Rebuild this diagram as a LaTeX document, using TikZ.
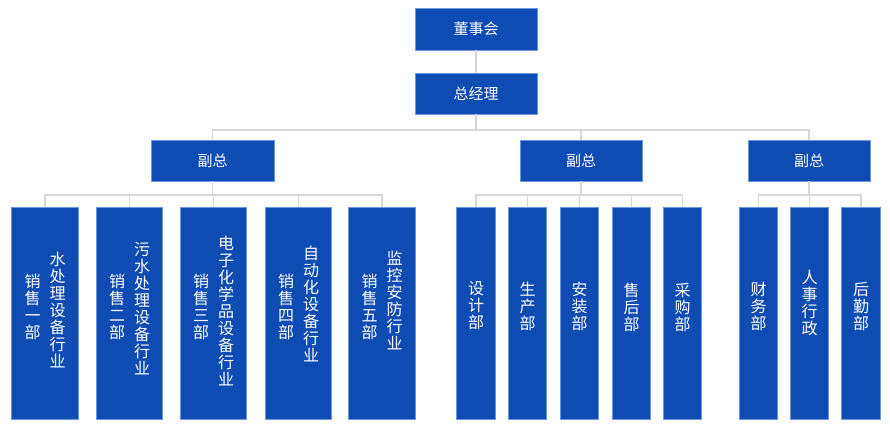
\documentclass[tikz,border=0pt]{standalone}
\usepackage{fontspec}
\newfontfamily\cjk{Noto Sans CJK SC}
\definecolor{boxblue}{RGB}{14,75,178}
\definecolor{boxedge}{RGB}{110,150,220}
\definecolor{conngray}{RGB}{215,215,215}
\begin{document}
\begin{tikzpicture}[x=1pt,y=-1pt,
  box/.style={draw=boxedge, line width=0.7pt, fill=boxblue, text=white, inner sep=0pt,
    font=\cjk\fontsize{15}{17}\selectfont},
  head/.style={box, minimum width=122pt, minimum height=41pt},
  sale/.style={box, minimum width=66.5pt, minimum height=212pt},
  dept/.style={box, minimum width=38.5pt, minimum height=212pt},
  vtxt/.style={text=white, align=center, inner sep=0pt, font=\cjk\fontsize{16}{17}\selectfont},
  conn/.style={draw=conngray, line width=1.3pt}]
\useasboundingbox (0,0) rectangle (890,426);
% top
\node[head, minimum height=42pt] (board) at (476,29) {董事会};
\node[head] (gm) at (476,93.5) {总经理};
\node[head, minimum width=123pt] (vp1) at (212.5,160.5) {副总};
\node[head] (vp2) at (581,160.5) {副总};
\node[head] (vp3) at (809,160.5) {副总};
% sales
\node[sale] (s1) at (45,313) {};
\node[sale] (s2) at (129.5,313) {};
\node[sale] (s3) at (213.5,313) {};
\node[sale] (s4) at (298.5,313) {};
\node[sale] (s5) at (382,313) {};
% middle
\node[dept] (m1) at (476,313) {};
\node[dept] (m2) at (527.5,313) {};
\node[dept] (m3) at (579.5,313) {};
\node[dept] (m4) at (631.5,313) {};
\node[dept] (m5) at (682.5,313) {};
% right
\node[dept] (r1) at (758.5,313) {};
\node[dept] (r2) at (809.5,313) {};
\node[dept] (r3) at (861,313) {};
% texts
\node[vtxt] (s1a) at ([xshift=-12.5pt,yshift=6pt]s1.center) {销\\售\\一\\部};
\node[vtxt] (s1b) at ([xshift=12.5pt,yshift=3pt]s1.center) {水\\处\\理\\设\\备\\行\\业};
\node[vtxt] (s2a) at ([xshift=-12.5pt,yshift=6pt]s2.center) {销\\售\\二\\部};
\node[vtxt] (s2b) at ([xshift=12.5pt,yshift=4pt]s2.center) {污\\水\\处\\理\\设\\备\\行\\业};
\node[vtxt] (s3a) at ([xshift=-12.5pt,yshift=6pt]s3.center) {销\\售\\三\\部};
\node[vtxt] (s3b) at ([xshift=12.5pt,yshift=2pt]s3.center) {电\\子\\化\\学\\品\\设\\备\\行\\业};
\node[vtxt] (s4a) at ([xshift=-12.5pt,yshift=6pt]s4.center) {销\\售\\四\\部};
\node[vtxt] (s4b) at ([xshift=12.5pt,yshift=9pt]s4.center) {自\\动\\化\\设\\备\\行\\业};
\node[vtxt] (s5a) at ([xshift=-12.5pt,yshift=6pt]s5.center) {销\\售\\五\\部};
\node[vtxt] (s5b) at ([xshift=12.5pt,yshift=12pt]s5.center) {监\\控\\安\\防\\行\\业};
\node[vtxt] (m1t) at ([yshift=7pt]m1.center) {设\\计\\部};
\node[vtxt] (m2t) at ([yshift=7pt]m2.center) {生\\产\\部};
\node[vtxt] (m3t) at ([yshift=7pt]m3.center) {安\\装\\部};
\node[vtxt] (m4t) at ([yshift=6pt]m4.center) {售\\后\\部};
\node[vtxt] (m5t) at ([yshift=6pt]m5.center) {采\\购\\部};
\node[vtxt] (r1t) at ([yshift=7pt]r1.center) {财\\务\\部};
\node[vtxt] (r2t) at ([yshift=10pt]r2.center) {人\\事\\行\\政};
\node[vtxt] (r3t) at ([yshift=7pt]r3.center) {后\\勤\\部};
% connectors
\coordinate (busA) at (476,130);
\coordinate (busL) at (212.5,195);
\coordinate (busM) at (581,195);
\coordinate (busR) at (809,195);
\draw[conn] (board.south) -- (gm.north);
\foreach \v in {vp1,vp2,vp3}
  \draw[conn] (gm.south) -- (gm.south |- busA) -| (\v.north);
\foreach \c in {s1,s2,s3,s4,s5}
  \draw[conn] (vp1.south) -- (vp1.south |- busL) -| (\c.north);
\foreach \c in {m1,m2,m3,m4,m5}
  \draw[conn] (vp2.south) -- (vp2.south |- busM) -| (\c.north);
\foreach \c in {r1,r2,r3}
  \draw[conn] (vp3.south) -- (vp3.south |- busR) -| (\c.north);
\end{tikzpicture}
\end{document}
